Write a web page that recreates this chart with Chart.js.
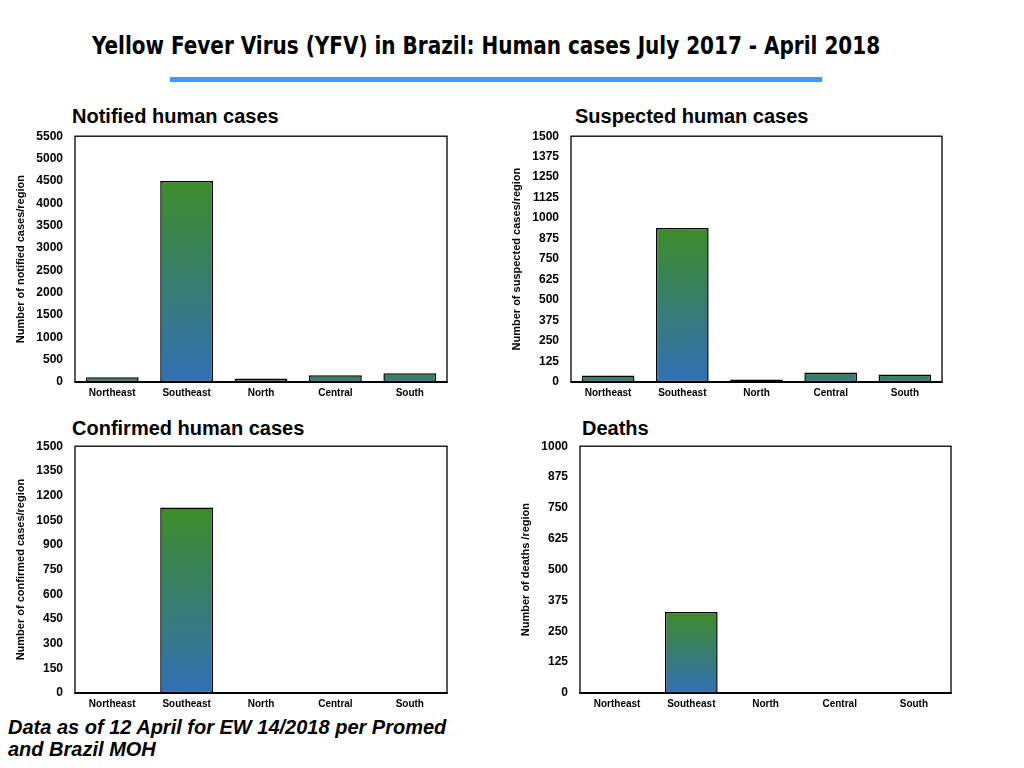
<!DOCTYPE html>
<html>
<head>
<meta charset="utf-8">
<script src="https://cdn.jsdelivr.net/npm/chart.js@4/dist/chart.umd.min.js"></script>
<style>
  html, body { margin: 0; padding: 0; background: #fff; }
  #page { position: relative; width: 1024px; height: 768px; overflow: hidden; background: #fff;
          font-family: "Liberation Sans", Arial, Helvetica, sans-serif; color: #000; }
  #mainTitle { position: absolute; left: 0; width: 972px; top: 31px; text-align: center; white-space: nowrap;
               font-family: "Liberation Sans Narrow", "DejaVu Sans Condensed", "Liberation Sans", sans-serif;
               font-stretch: condensed; font-weight: bold; font-size: 25px; line-height: 30px; }
  #rule { position: absolute; left: 170px; top: 77px; width: 652px; height: 5px; background: #3e9cf2; }
  .sub { position: absolute; font-weight: bold; font-size: 20px; line-height: 24px; white-space: nowrap; }
  #note { position: absolute; left: 8px; top: 716px; font-weight: bold; font-style: italic;
          font-size: 20px; line-height: 22px; white-space: nowrap; }
  canvas { position: absolute; }
</style>
</head>
<body>
<div id="page">
  <div id="mainTitle">Yellow Fever Virus (YFV) in Brazil: Human cases July 2017 - April 2018</div>
  <div id="rule"></div>
  <div class="sub" style="left:72px; top:104px;">Notified human cases</div>
  <div class="sub" style="left:575px; top:104px;">Suspected human cases</div>
  <div class="sub" style="left:72px; top:416px;">Confirmed human cases</div>
  <div class="sub" style="left:582px; top:416px;">Deaths</div>
  <canvas id="notifiedChart"></canvas>
  <canvas id="suspectedChart"></canvas>
  <canvas id="confirmedChart"></canvas>
  <canvas id="deathsChart"></canvas>
  <div id="note">Data as of 12 April for EW 14/2018 per Promed<br>and Brazil MOH</div>
</div>

<script>
const regions = ['Northeast', 'Southeast', 'North', 'Central', 'South'];

const notifiedCases = [105, 4500, 80, 150, 195];
const suspectedCases = [40, 940, 15, 58, 46];
const confirmedCases = [0, 1127, 0, 0, 0];
const deathCounts = [0, 328, 0, 0, 0];

const notifiedTicks = [0, 500, 1000, 1500, 2000, 2500, 3000, 3500, 4000, 4500, 5000, 5500];
const suspectedTicks = [0, 125, 250, 375, 500, 625, 750, 875, 1000, 1125, 1250, 1375, 1500];
const confirmedTicks = [0, 150, 300, 450, 600, 750, 900, 1050, 1200, 1350, 1500];
const deathTicks = [0, 125, 250, 375, 500, 625, 750, 875, 1000];

const green = '#3d8b29';
const blue = '#3270b6';

// stretch the narrow title to the width used in the slide
const titleEl = document.getElementById('mainTitle');
const titleSpan = document.createElement('span');
titleSpan.textContent = titleEl.textContent;
titleEl.textContent = '';
titleEl.appendChild(titleSpan);
titleSpan.style.display = 'inline-block';
const w = titleSpan.getBoundingClientRect().width;
if (w > 0) {
    titleSpan.style.transform = 'scaleX(' + (788 / w) + ')';
}

const framePlugin = {
    id: 'frame',
    afterDatasetsDraw(chart) {
        const a = chart.chartArea;
        const c = chart.ctx;
        c.save();
        c.strokeStyle = '#000';
        c.lineWidth = 1.3;
        c.strokeRect(a.left, a.top, a.right - a.left, a.bottom - a.top);
        c.lineWidth = 2;
        c.beginPath();
        c.moveTo(a.left - 0.6, a.bottom);
        c.lineTo(a.right + 0.6, a.bottom);
        c.stroke();
        c.restore();
    }
};

function barGradient(ctx) {
    const chart = ctx.chart;
    if (!chart.chartArea || ctx.raw === undefined) {
        return green;
    }
    const y = chart.scales.y;
    const top = y.getPixelForValue(ctx.raw);
    const base = y.getPixelForValue(0);
    if (base - top < 1) {
        return green;
    }
    const g = chart.ctx.createLinearGradient(0, top, 0, base);
    g.addColorStop(0, green);
    g.addColorStop(1, blue);
    return g;
}

function makeChart(id, values, ticks, yTitle, plot) {
    const canvas = document.getElementById(id);
    // the y scale keeps half a label + tick padding (about 19px) above the plot
    const left = plot.left - 75;
    const top = plot.top - 19;
    const width = plot.right - left + 4;
    const height = plot.bottom - top + 22;
    canvas.style.left = left + 'px';
    canvas.style.top = top + 'px';
    canvas.width = width;
    canvas.height = height;
    canvas.style.width = width + 'px';
    canvas.style.height = height + 'px';

    return new Chart(canvas, {
        type: 'bar',
        data: {
            labels: regions,
            datasets: [{
                data: values,
                backgroundColor: barGradient,
                borderColor: '#000',
                borderWidth: ctx => (ctx.raw > 0 ? 1.5 : 0),
                borderSkipped: false,
                barPercentage: 0.71,
                categoryPercentage: 1.0
            }]
        },
        options: {
            responsive: false,
            animation: false,
            devicePixelRatio: 1,
            layout: {
                padding: { left: 0, right: 4, top: 1, bottom: 0 }
            },
            plugins: {
                legend: { display: false },
                tooltip: { enabled: false }
            },
            scales: {
                x: {
                    grid: { display: false, drawTicks: false },
                    border: { display: false },
                    ticks: {
                        color: '#000',
                        padding: 5,
                        maxRotation: 0,
                        font: { family: 'Liberation Sans', size: 10, weight: 'bold' }
                    },
                    afterFit(scale) {
                        scale.height = 22;
                    }
                },
                y: {
                    min: ticks[0],
                    max: ticks[ticks.length - 1],
                    grid: { display: false, drawTicks: false },
                    border: { display: false },
                    afterBuildTicks(scale) {
                        scale.ticks = ticks.map(v => ({ value: v }));
                    },
                    ticks: {
                        color: '#000',
                        padding: 12,
                        callback: v => String(v),
                        font: { family: 'Liberation Sans', size: 12, weight: 'bold' }
                    },
                    title: {
                        display: true,
                        text: yTitle,
                        color: '#000',
                        padding: { top: 14, bottom: 0 },
                        font: { family: 'Liberation Sans', size: 11, weight: 'bold' }
                    },
                    afterFit(scale) {
                        scale.width = 75;
                    }
                }
            }
        },
        plugins: [framePlugin]
    });
}

makeChart('notifiedChart', notifiedCases, notifiedTicks,
        'Number of notified cases/region', { left: 75, top: 136, right: 447, bottom: 382 });

makeChart('suspectedChart', suspectedCases, suspectedTicks,
        'Number of suspected cases/region', { left: 571, top: 136, right: 942, bottom: 382 });

makeChart('confirmedChart', confirmedCases, confirmedTicks,
        'Number of confirmed cases/region', { left: 75, top: 446, right: 447, bottom: 693 });

makeChart('deathsChart', deathCounts, deathTicks,
        'Number of deaths /region', { left: 580, top: 446, right: 951, bottom: 693 });
</script>
</body>
</html>
